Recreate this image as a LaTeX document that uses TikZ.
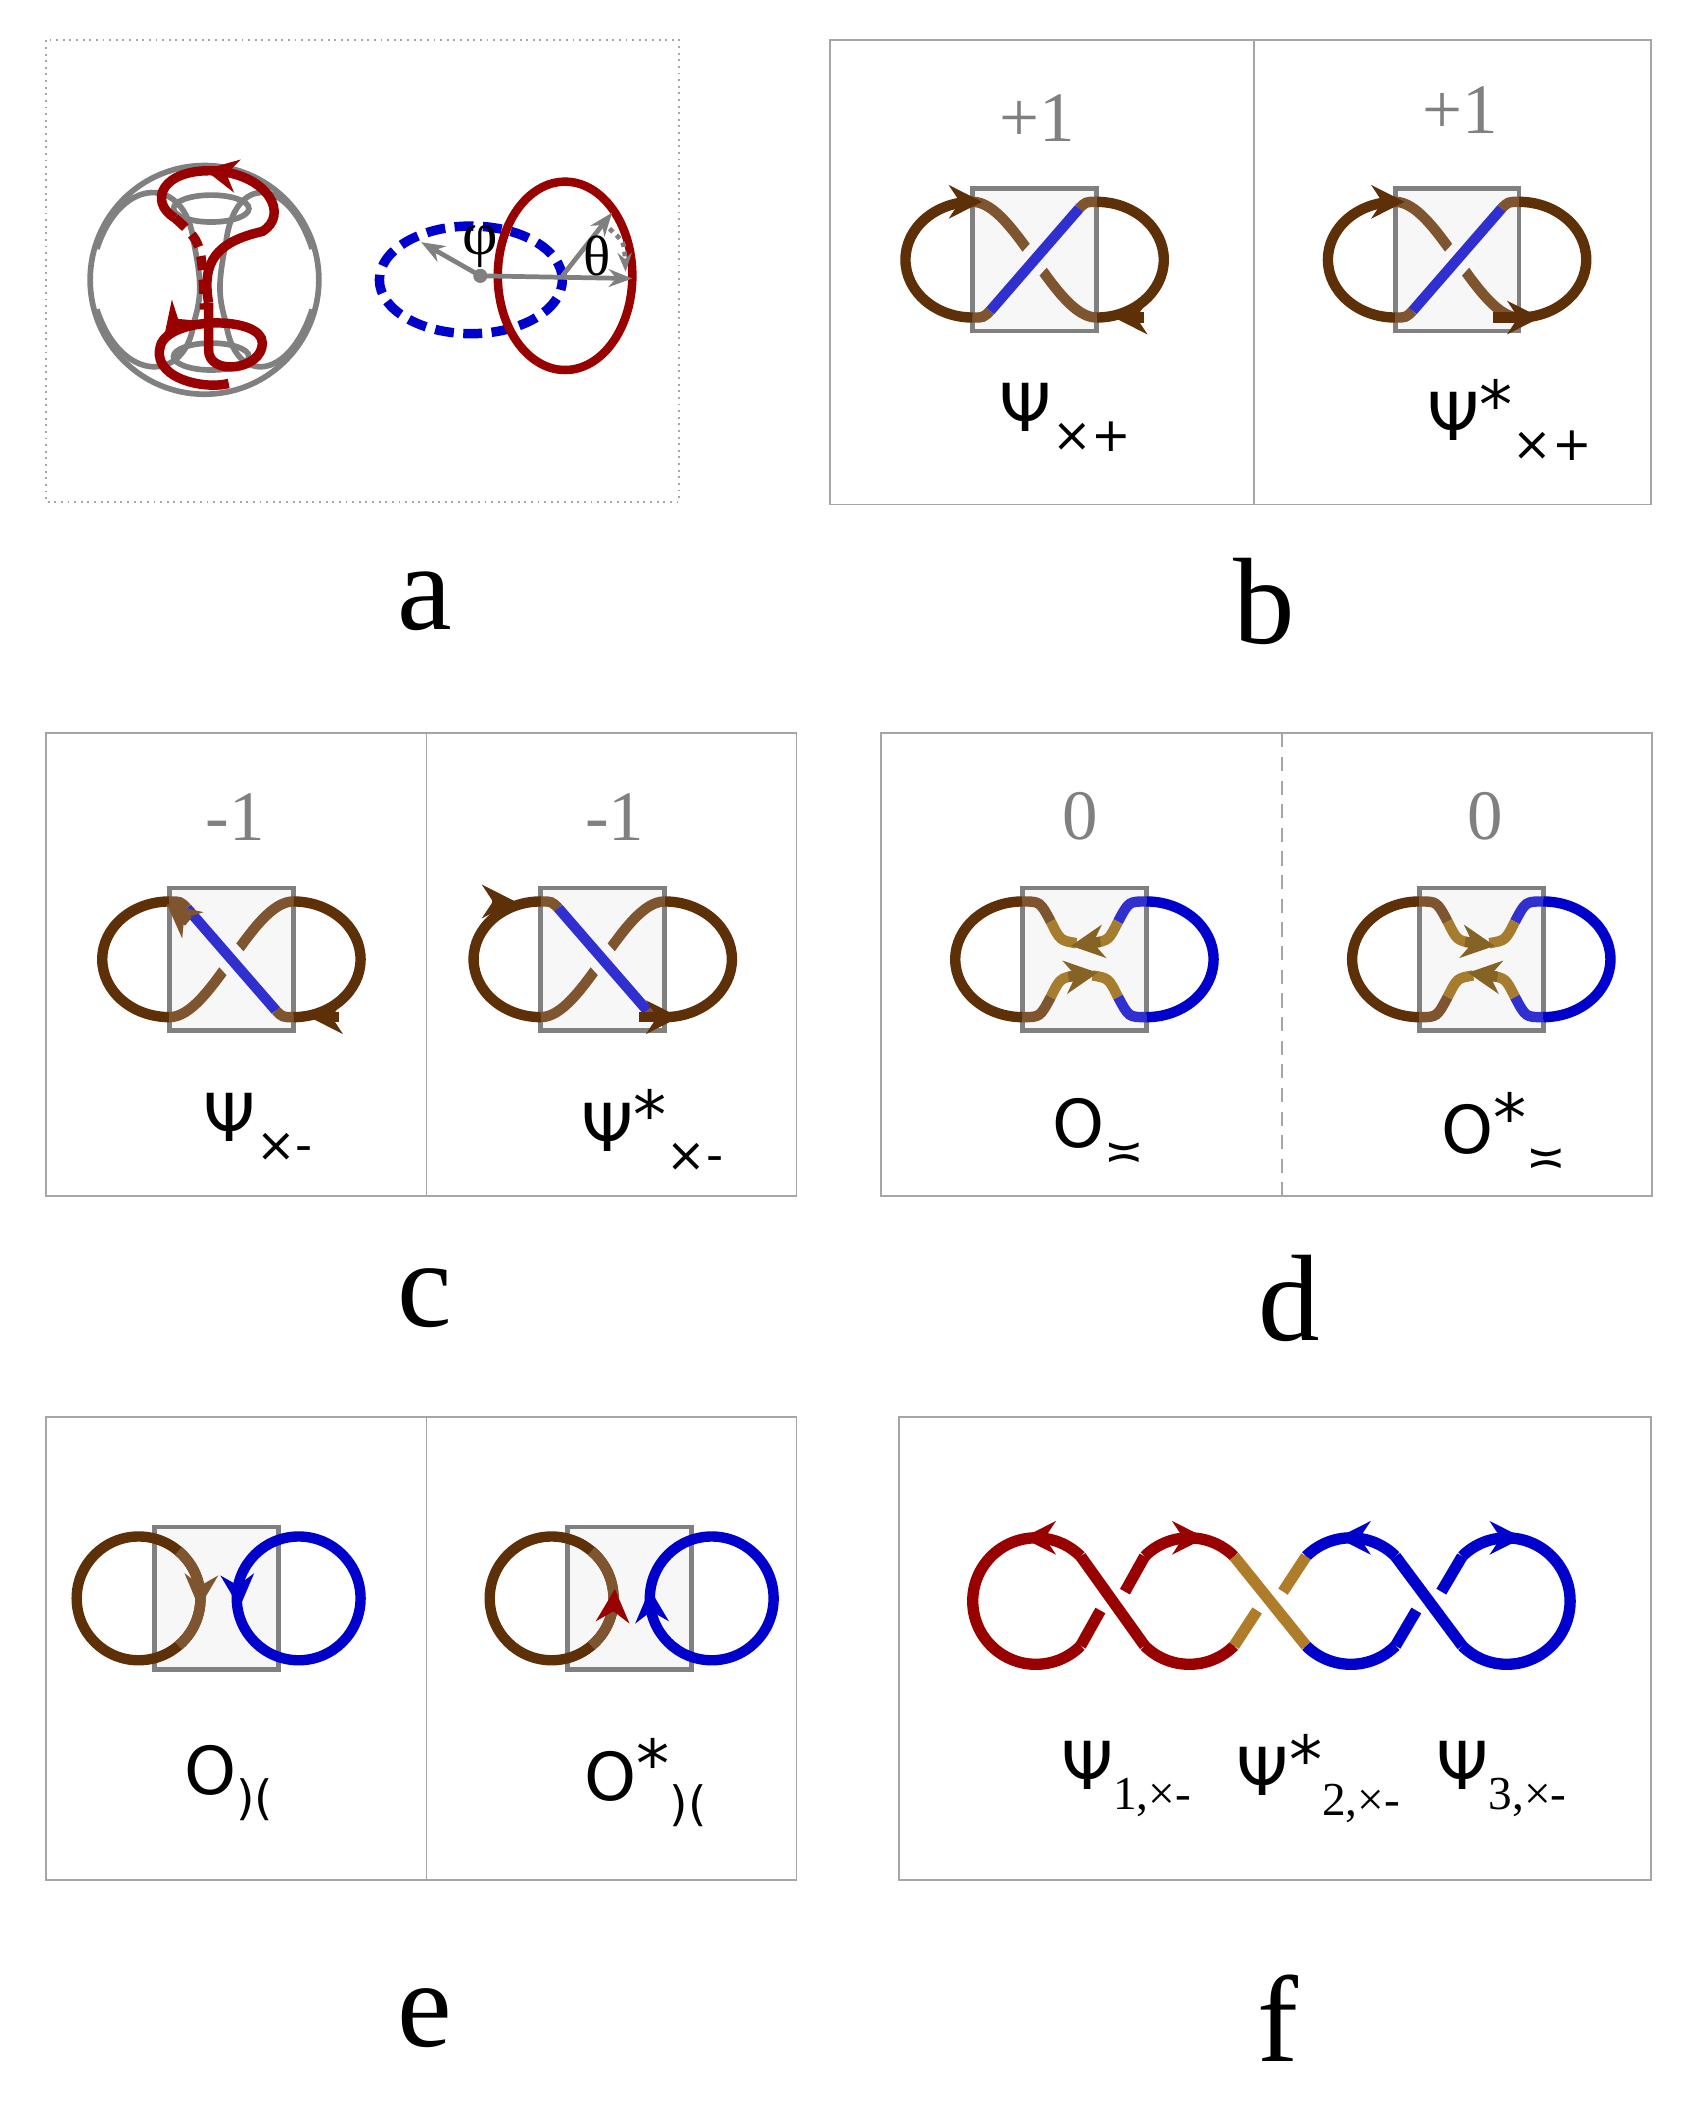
\documentclass[tikz,border=0pt]{standalone}
\usepackage{fontspec}
\setmainfont{Liberation Serif}
\newfontfamily\psyfont{DejaVu Sans}
\usetikzlibrary{arrows.meta,calc}

\definecolor{brownD}{HTML}{5E3008}
\definecolor{brownL}{HTML}{7F5530}
\definecolor{goldA}{HTML}{A67C2E}
\definecolor{blueD}{HTML}{0000CC}
\definecolor{blueL}{HTML}{3030D0}
\definecolor{redD}{HTML}{990000}
\definecolor{boxfill}{HTML}{F7F7F7}

\tikzset{
  panel/.style={draw=gray!70, line width=0.4pt},
  kbox/.style={draw=gray, fill=boxfill, line width=1pt},
  strand/.style={line width=2.2pt},
  gap/.style={line width=6pt, draw=boxfill},
  tip/.style={-{Stealth[length=7pt,width=7pt]}, line width=2.2pt},
  num/.style={text=gray, font=\fontsize{15}{15}\selectfont},
  sub/.style={font=\psyfont\fontsize{14}{14}\selectfont},
  letter/.style={font=\fontsize{26}{26}\selectfont}
}

\newcommand{\lo}[1]{\raisebox{-0.55ex}{\fontsize{10}{10}\selectfont #1}}
\newcommand{\st}{\raisebox{0.35ex}{*}}

% figure-eight with one crossing; #3 = 1 (blue over /) or -1 (blue over \)
\newcommand{\xknot}[3]{%
  \begin{scope}[shift={(#1,#2)}]
    \draw[kbox] (-0.46,-0.53) rectangle (0.46,0.53);
    \draw[strand,brownD] (-0.46,0.43) arc[start angle=90,end angle=270,x radius=0.5,y radius=0.43];
    \draw[strand,brownD] (0.46,0.43) arc[start angle=90,end angle=-90,x radius=0.5,y radius=0.43];
    \begin{scope}[xscale=#3]
      \draw[strand,brownL] (-0.46,0.43) .. controls (-0.15,0.43) and (0.15,-0.43) .. (0.46,-0.43);
      \draw[gap] (-0.22,-0.24) -- (0.22,0.24);
      \draw[strand,brownL] (-0.46,-0.43) .. controls (-0.38,-0.43) .. (-0.33,-0.38);
      \draw[strand,brownL] (0.46,0.43) .. controls (0.38,0.43) .. (0.33,0.38);
      \draw[strand,blueL] (-0.33,-0.38) -- (0.33,0.38);
    \end{scope}
  \end{scope}}

% two loops that touch but do not cross
\newcommand{\oknot}[3]{%
  \begin{scope}[shift={(#1,#2)}]
    \draw[kbox] (-0.46,-0.53) rectangle (0.46,0.53);
    \draw[strand,brownD] (-0.46,0.43) arc[start angle=90,end angle=270,x radius=0.5,y radius=0.43];
    \draw[strand,blueD] (0.46,0.43) arc[start angle=90,end angle=-90,x radius=0.5,y radius=0.43];
    \foreach \s in {1,-1} {
      \draw[strand,brownL] (-0.46,0.43*\s) .. controls (-0.33,0.43*\s) .. (-0.25,0.28*\s);
      \draw[strand,blueL] (0.46,0.43*\s) .. controls (0.33,0.43*\s) .. (0.25,0.28*\s);
      \draw[strand,goldA] (-0.25,0.28*\s) .. controls (-0.18,0.14*\s) .. (-0.06,0.12*\s);
      \draw[strand,goldA] (0.25,0.28*\s) .. controls (0.18,0.14*\s) .. (0.06,0.12*\s);
    }
    \draw[tip,goldA!80!black] (0.12*#3,0.13) -- (-0.1*#3,0.1);
    \draw[tip,goldA!80!black] (-0.12*#3,-0.13) -- (0.1*#3,-0.1);
  \end{scope}}

% two separate circles
\newcommand{\eknot}[2]{%
  \begin{scope}[shift={(#1,#2)}]
    \draw[kbox] (-0.46,-0.53) rectangle (0.46,0.53);
    \draw[strand,brownD] (-0.58,0) circle (0.46);
    \draw[strand,brownL] (-0.58,0) ++(50:0.46) arc[start angle=50,end angle=-50,radius=0.46];
    \draw[strand,blueD] (0.61,0) circle (0.46);
  \end{scope}}

\begin{document}
\begin{tikzpicture}[x=1cm,y=1cm]
  \useasboundingbox (0,0) rectangle (12.64,-15.72);

  % Cornici
  \draw[panel,densely dotted] (0.34,-0.30) rectangle (5.05,-3.73);
  \draw[panel] (6.17,-0.30) rectangle (12.27,-3.75);
  \draw[panel] (9.32,-0.30) -- (9.32,-3.75);
  \draw[panel] (0.34,-5.45) rectangle (5.92,-8.89);
  \draw[panel] (3.17,-5.45) -- (3.17,-8.89);
  \draw[panel] (6.55,-5.45) rectangle (12.28,-8.89);
  \draw[panel,densely dashed] (9.53,-5.45) -- (9.53,-8.89);
  \draw[panel] (0.34,-10.53) rectangle (5.92,-13.97);
  \draw[panel] (3.17,-10.53) -- (3.17,-13.97);
  \draw[panel] (6.68,-10.53) rectangle (12.27,-13.97);

  % Pannello a: toro
  \begin{scope}[gray, line width=1.2pt]
    \draw (1.52,-2.08) circle (0.85);
    \draw (1.57,-1.55) ellipse (0.28 and 0.10);
    \draw (1.57,-2.65) ellipse (0.28 and 0.10);
    \draw (0.72,-1.85) .. controls (0.90,-1.30) and (1.38,-1.30) .. (1.44,-1.80)
      .. controls (1.50,-2.10) and (1.50,-2.20) .. (1.44,-2.40)
      .. controls (1.38,-2.85) and (0.90,-2.85) .. (0.72,-2.30);
    \draw (2.32,-1.85) .. controls (2.14,-1.30) and (1.74,-1.30) .. (1.68,-1.80)
      .. controls (1.62,-2.10) and (1.62,-2.20) .. (1.68,-2.40)
      .. controls (1.74,-2.85) and (2.14,-2.85) .. (2.32,-2.30);
  \end{scope}
  \draw[redD, line width=2pt] (1.55,-2.25) .. controls (1.50,-1.95) and (1.60,-1.80) .. (1.95,-1.72)
    .. controls (2.15,-1.60) and (2.00,-1.30) .. (1.60,-1.27)
    .. controls (1.20,-1.25) and (1.10,-1.50) .. (1.30,-1.62);
  \draw[tip, redD, line width=1.6pt] (1.62,-1.28) -- (1.52,-1.26);
  \draw[redD, line width=2pt, densely dashed] (1.30,-1.62) .. controls (1.50,-1.80) .. (1.52,-2.30);
  \draw[redD, line width=2pt] (1.55,-2.25) -- (1.55,-2.60)
    .. controls (1.55,-2.80) and (1.95,-2.75) .. (1.95,-2.55)
    .. controls (1.95,-2.35) and (1.30,-2.35) .. (1.20,-2.55)
    .. controls (1.10,-2.80) and (1.50,-2.90) .. (1.70,-2.85);
  \draw[tip, redD, line width=1.6pt] (1.30,-2.40) -- (1.22,-2.50);

  % Pannello a: angoli
  \draw[blueD, line width=2pt, dash pattern=on 4pt off 2pt] (3.50,-2.08) ellipse (0.68 and 0.40);
  \draw[redD, line width=1.8pt] (4.20,-2.05) ellipse (0.50 and 0.70);
  \coordinate (org) at (3.57,-2.05);
  \coordinate (phiEnd) at (3.13,-1.80);
  \coordinate (xEnd) at (4.70,-2.07);
  \coordinate (thOrg) at (4.18,-2.05);
  \coordinate (thEnd) at (4.55,-1.58);
  \fill[gray] (org) circle (1.5pt);
  \draw[gray, line width=1pt, -{Stealth[length=5pt]}] (org) -- (phiEnd);
  \draw[gray, line width=1pt, -{Stealth[length=5pt]}] (org) -- (xEnd);
  \draw[gray, line width=1pt, -{Stealth[length=5pt]}] (thOrg) -- (thEnd);
  \draw[gray, line width=1pt, densely dotted, -{Stealth[length=4pt]}] (4.53,-1.70) .. controls (4.64,-1.80) .. (4.65,-2.02);
  \node (phi) at (3.57,-1.83) {\fontsize{13}{13}\selectfont φ};
  \node (theta) at (4.44,-1.90) {\fontsize{12}{12}\selectfont θ};

  % Pannelli b, c
  \xknot{7.69}{-1.93}{1}
  \xknot{10.83}{-1.93}{1}
  \xknot{1.72}{-7.13}{-1}
  \xknot{4.48}{-7.13}{-1}
  \draw[tip,brownD] (7.13,-1.50) -- (7.30,-1.50);
  \draw[tip,brownD] (8.50,-2.36) -- (8.28,-2.36);
  \draw[tip,brownD] (10.27,-1.50) -- (10.44,-1.50);
  \draw[tip,brownD] (11.10,-2.36) -- (11.45,-2.36);
  \draw[tip,brownL] (1.40,-6.85) -- (1.24,-6.72);
  \draw[tip,brownD] (2.52,-7.56) -- (2.30,-7.56);
  \draw[tip,brownD] (3.66,-6.70) -- (3.83,-6.70);
  \draw[tip,brownD] (4.75,-7.56) -- (5.05,-7.56);

  % Pannello d
  \oknot{8.06}{-7.13}{1}
  \oknot{11.01}{-7.13}{-1}

  % Pannello e
  \eknot{1.61}{-11.88}
  \eknot{4.68}{-11.88}
  \draw[tip,brownL] (1.49,-11.80) -- (1.48,-11.95);
  \draw[tip,blueD] (1.77,-11.80) -- (1.78,-11.95);
  \draw[tip,redD] (4.56,-11.96) -- (4.57,-11.81);
  \draw[tip,blueD] (4.84,-11.96) -- (4.83,-11.81);

  % Pannello f: catena
  \begin{scope}[shift={(0,-11.90)}, line width=2.4pt]
    \coordinate (c0) at (7.70,0);
    \coordinate (c1) at (8.84,0);
    \coordinate (c2) at (10.04,0);
    \coordinate (c3) at (11.20,0);
    \draw[redD] (c0) ++(45:0.47) arc[start angle=45,end angle=315,radius=0.47];
    \draw[redD] (c1) ++(45:0.47) arc[start angle=45,end angle=135,radius=0.47];
    \draw[redD] (c1) ++(225:0.47) arc[start angle=225,end angle=315,radius=0.47];
    \draw[blueD] (c2) ++(45:0.47) arc[start angle=45,end angle=135,radius=0.47];
    \draw[blueD] (c2) ++(225:0.47) arc[start angle=225,end angle=315,radius=0.47];
    \draw[blueD] (c3) ++(135:0.47) arc[start angle=135,end angle=-135,radius=0.47];
    % incroci
    \draw[redD] ($(c0)+(45:0.47)$) -- ($(c1)+(225:0.47)$);
    \draw[redD] ($(c0)+(315:0.47)$) -- ($(c0)!0.42!(c1)+(0,-0.07)$);
    \draw[redD] ($(c0)!0.58!(c1)+(0,0.07)$) -- ($(c1)+(135:0.47)$);
    \draw[goldA!90!orange] ($(c1)+(45:0.47)$) -- ($(c2)+(225:0.47)$);
    \draw[goldA!90!orange] ($(c1)+(315:0.47)$) -- ($(c1)!0.42!(c2)+(0,-0.07)$);
    \draw[goldA!90!orange] ($(c1)!0.58!(c2)+(0,0.07)$) -- ($(c2)+(135:0.47)$);
    \draw[blueD] ($(c2)+(45:0.47)$) -- ($(c3)+(225:0.47)$);
    \draw[blueD] ($(c2)+(315:0.47)$) -- ($(c2)!0.42!(c3)+(0,-0.07)$);
    \draw[blueD] ($(c2)!0.58!(c3)+(0,0.07)$) -- ($(c3)+(135:0.47)$);
    % frecce
    \draw[tip,redD] ($(c0)+(0.05,0.47)$) -- ($(c0)+(-0.1,0.47)$);
    \draw[tip,redD] ($(c1)+(-0.05,0.47)$) -- ($(c1)+(0.12,0.47)$);
    \draw[tip,blueD] ($(c2)+(0.05,0.47)$) -- ($(c2)+(-0.1,0.47)$);
    \draw[tip,blueD] ($(c3)+(-0.05,0.47)$) -- ($(c3)+(0.12,0.47)$);
  \end{scope}

  % Numeri
  \node[num] (nb1) at (7.71,-0.88) {+1};
  \node[num] (nb2) at (10.85,-0.82) {+1};
  \node[num] (nc1) at (1.75,-6.07) {-1};
  \node[num] (nc2) at (4.57,-6.07) {-1};
  \node[num] (nd1) at (8.03,-6.07) {0};
  \node[num] (nd2) at (11.04,-6.07) {0};

  % Etichette
  \node[sub] (lb1) at (7.92,-3.10) {Ψ\lo{×+}};
  \node[sub] (lb2) at (11.22,-3.12) {Ψ\st\lo{×+}};
  \node[sub] (lc1) at (1.92,-8.38) {Ψ\lo{×-}};
  \node[sub] (lc2) at (4.85,-8.40) {Ψ\st\lo{×-}};
  \node[sub] (ld1) at (8.16,-8.42) {O\lo{≍}};
  \node[sub] (ld2) at (11.18,-8.42) {O\st\lo{≍}};
  \node[sub] (le1) at (1.70,-13.25) {O\lo{)(}};
  \node[sub] (le2) at (4.80,-13.25) {O\st\lo{)(}};
  \node[sub] (lf1) at (8.37,-13.22) {Ψ\lo{\rmfamily 1,×-}};
  \node[sub] (lf2) at (9.80,-13.22) {Ψ\st\lo{\rmfamily 2,×-}};
  \node[sub] (lf3) at (11.16,-13.22) {Ψ\lo{\rmfamily 3,×-}};

  % Lettere
  \node[letter] (la) at (3.16,-4.47) {a};
  \node[letter] (lb) at (9.40,-4.47) {b};
  \node[letter] (lc) at (3.16,-9.65) {c};
  \node[letter] (ld) at (9.58,-9.65) {d};
  \node[letter] (le) at (3.16,-15.00) {e};
  \node[letter] (lf) at (9.50,-15.00) {f};
\end{tikzpicture}
\end{document}
